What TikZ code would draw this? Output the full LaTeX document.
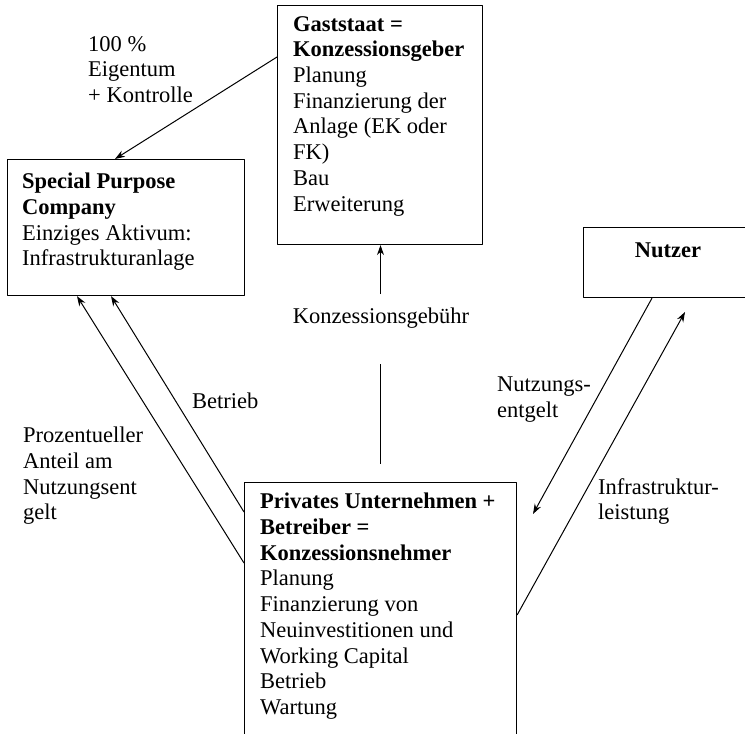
\documentclass[tikz,border=0pt]{standalone}
\usepackage{fontspec}
\setmainfont{Liberation Serif}
\usetikzlibrary{arrows.meta}
\begin{document}
\begin{tikzpicture}[x=1pt,y=-1pt,line join=round,>={Stealth[length=10pt,width=7pt]},
	font=\fontsize{22.5}{25.7}\selectfont,
	box/.style={draw,line width=1.1pt,inner sep=0,anchor=north west},
	txt/.style={align=left,inner sep=0,anchor=north west},
	flow/.style={->,line width=1pt}]
	\useasboundingbox (0,0) rectangle (745,734);
	% boxes
	\node[box,minimum width=205pt,minimum height=239pt] (gast) at (277,5) {};
	\node[box,minimum width=237pt,minimum height=136pt] (spc) at (7,159) {};
	\node[box,minimum width=170pt,minimum height=70pt] (nutz) at (583,227) {};
	\node[box,minimum width=272pt,minimum height=262pt] (priv) at (244,482) {};
	% box texts
	\node[txt] (gasttxt) at (293,16) {\textbf{Gaststaat =}\\\textbf{Konzessionsgeber}\\Planung\\Finanzierung der\\Anlage (EK oder\\FK)\\Bau\\Erweiterung};
	\node[txt] (spctxt) at (22,173) {\textbf{Special Purpose}\\\textbf{Company}\\Einziges Aktivum:\\Infrastrukturanlage};
	\node[anchor=base,inner sep=0] (nutztxt) at (668,257) {\textbf{Nutzer}};
	\node[txt] (privtxt) at (260,493) {\textbf{Privates Unternehmen +}\\\textbf{Betreiber =}\\\textbf{Konzessionsnehmer}\\Planung\\Finanzierung von\\Neuinvestitionen und\\Working Capital\\Betrieb\\Wartung};
	% labels
	\node[txt] (eigen) at (88,36) {100 \%\\Eigentum\\+ Kontrolle};
	\node[anchor=base west,inner sep=0] (betr) at (192,408) {Betrieb};
	\node[txt] (anteil) at (23,427) {Prozentueller\\Anteil am\\Nutzungsent\\gelt};
	\node[anchor=base,inner sep=0] (fee) at (381,323) {Konzessionsgebühr};
	\node[txt] (entgelt) at (497,377) {Nutzungs-\\entgelt};
	\node[txt] (leist) at (598,478) {Infrastruktur-\\leistung};
	% free ends
	\coordinate (feea) at (380.5,294);
	\coordinate (feeb) at (380.5,364);
	\coordinate (feec) at (380.5,464);
	\coordinate (entgeltend) at (533,514);
	\coordinate (leistend) at (685,312);
	% connectors
	\draw[flow] ([yshift=-52pt]gast.north west) -- ([xshift=108pt]spc.north west);
	\draw[flow] ([yshift=-30pt]priv.north west) -- ([xshift=104pt]spc.south west);
	\draw[flow] ([yshift=-81pt]priv.north west) -- ([xshift=70pt]spc.south west);
	\draw[flow] (feea) -- (feea |- gast.south);
	\draw[line width=1pt] (feeb) -- (feec);
	\draw[flow] ([xshift=69pt]nutz.south west) -- (entgeltend);
	\draw[flow] ([yshift=-133pt]priv.north east) -- (leistend);
\end{tikzpicture}
\end{document}
